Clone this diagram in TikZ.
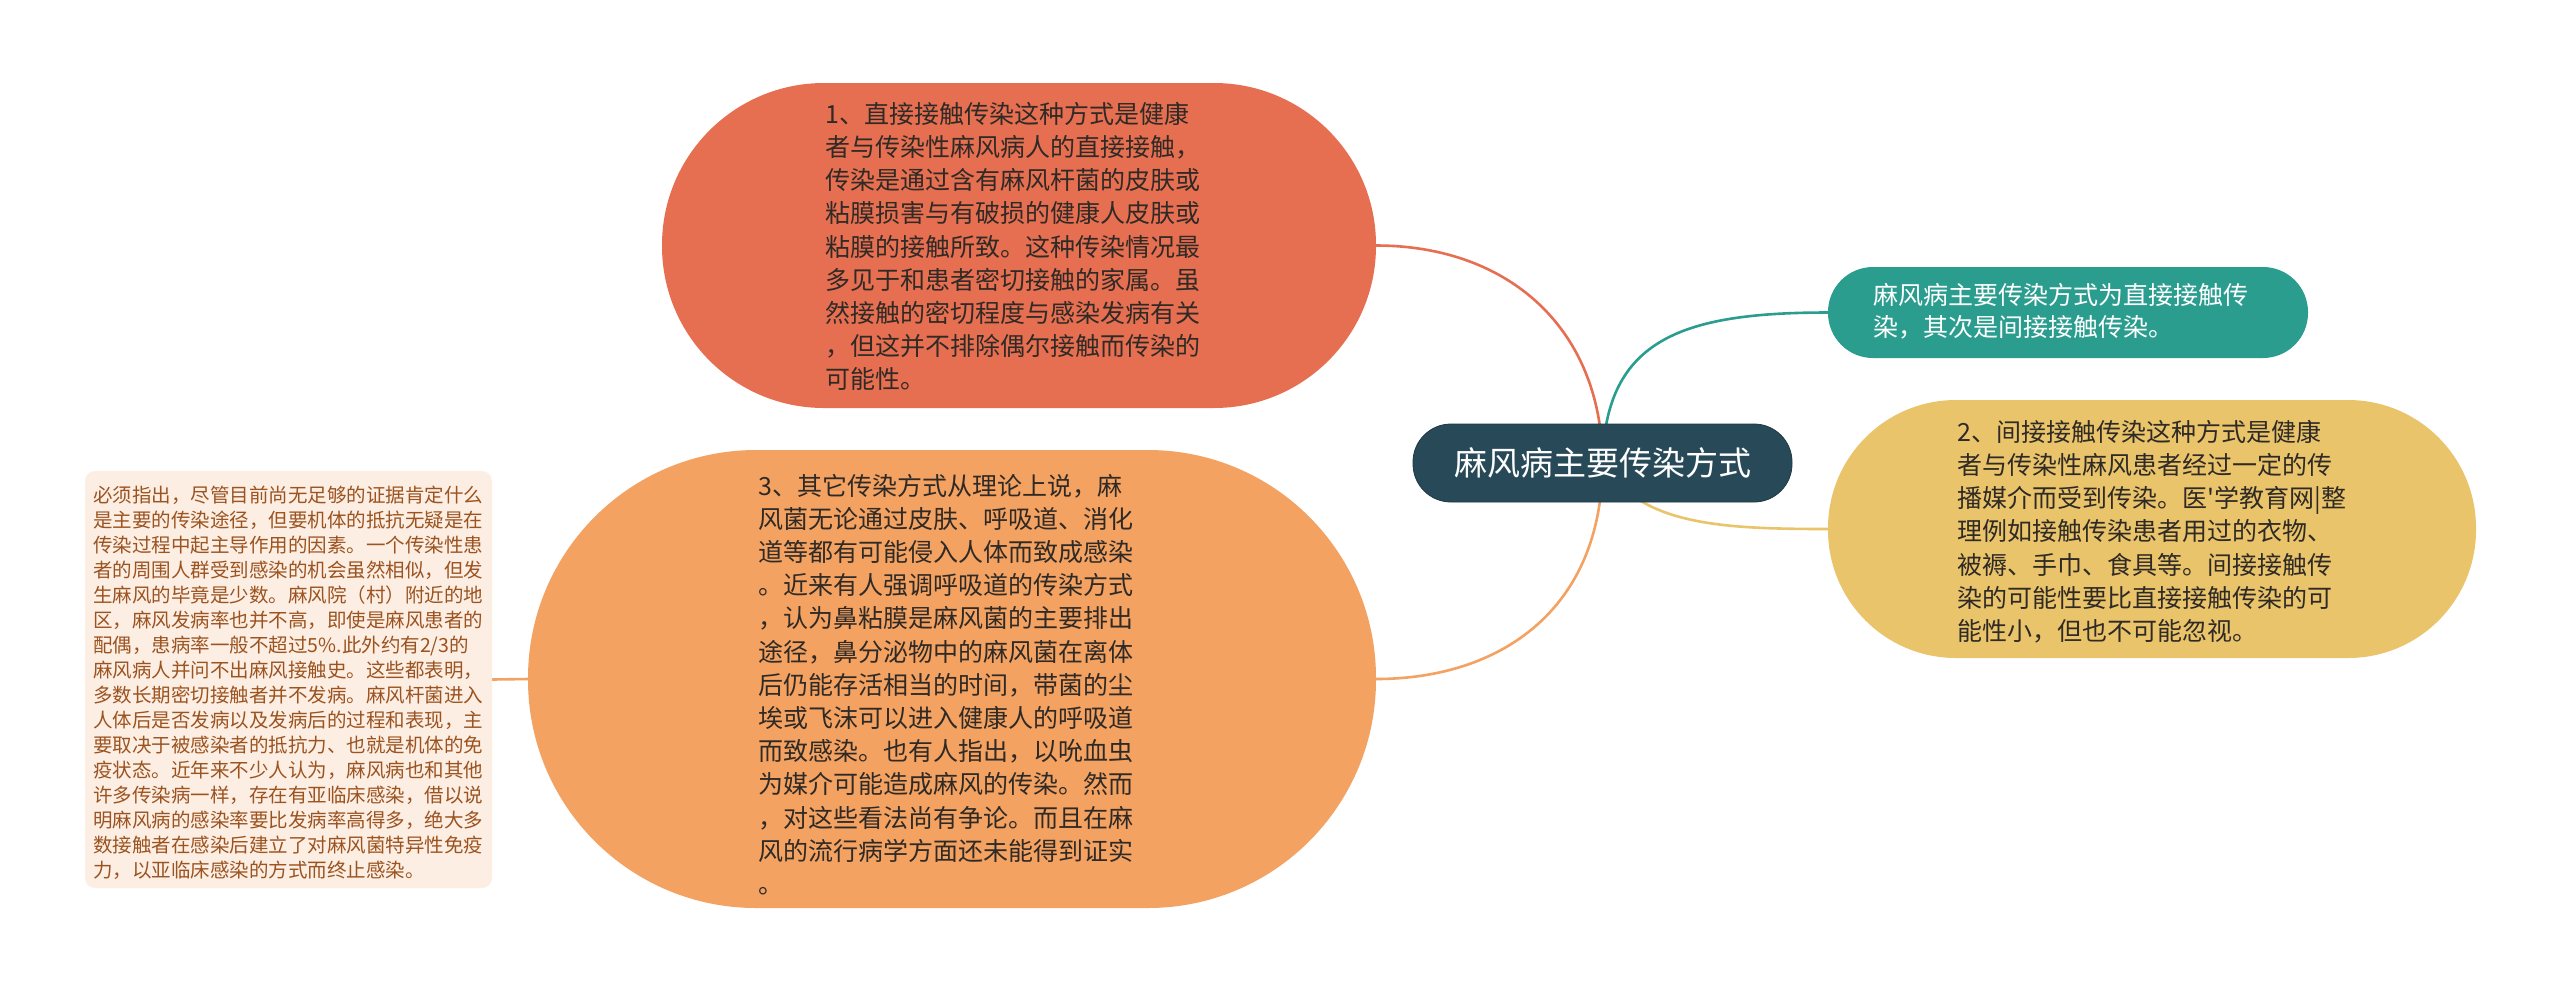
\documentclass[tikz,border=0pt]{standalone}
\usepackage{fontspec}
\setmainfont{Noto Sans CJK SC}
\usetikzlibrary{backgrounds}
\font\aposfont="Noto Sans CJK SC" at 12.5pt
\definecolor{cRoot}{HTML}{284A58}
\definecolor{cRootEdge}{HTML}{1E3844}
\definecolor{cRed}{HTML}{E76F51}
\definecolor{cTeal}{HTML}{2A9D8F}
\definecolor{cYel}{HTML}{E9C46A}
\definecolor{cOra}{HTML}{F4A261}
\definecolor{cPale}{HTML}{FDEEE3}
\definecolor{cBrown}{HTML}{9B5320}
\definecolor{cInk}{HTML}{2F2A26}
\tikzset{
  shapebox/.style={rectangle, inner sep=0pt, outer sep=0pt},
  bigtext/.style={anchor=west, align=left, inner sep=0pt, text=cInk,
    font={\fontsize{12.5}{16.6}\selectfont}},
  link/.style={line width=1.3pt},
}
\begin{document}
\begin{tikzpicture}[x=0.5pt,y=-0.5pt]
\useasboundingbox (0,0) rectangle (2560,993);

% shapes
\node[shapebox, fill=cRoot, draw=cRootEdge, line width=0.4pt, minimum width=189.5pt, minimum height=39pt, rounded corners=19pt] (root) at (1602.5,463) {};
\node[shapebox, fill=cRed, minimum width=357pt, minimum height=162.5pt, rounded corners=81pt] (n1) at (1019,245.5) {};
\node[shapebox, fill=cTeal, minimum width=240pt, minimum height=45.5pt, rounded corners=22.5pt] (n2) at (2068,312.5) {};
\node[shapebox, fill=cOra, minimum width=424pt, minimum height=229pt, rounded corners=114pt] (n3) at (952,679) {};
\node[shapebox, fill=cYel, minimum width=324pt, minimum height=129pt, rounded corners=64pt] (n4) at (2152,529) {};
\node[shapebox, fill=cPale, minimum width=203.5pt, minimum height=208.5pt, rounded corners=5pt] (n5) at (288.5,679.5) {};

% connectors (behind the shapes)
\begin{pgfonlayer}{background}
\fill[white] (0,0) rectangle (2560,993);
\draw[link, cRed] (n1.east) .. controls (1510,245.5) and (1602,330) .. (root.center);
\draw[link, cTeal] (root.center) .. controls (1605,340) and (1680,312.5) .. (n2.west);
\draw[link, cYel] (root.center) .. controls (1640,525) and (1720,529) .. (n4.west);
\draw[link, cOra] (root.center) .. controls (1602,610) and (1500,679) .. (n3.east);
\draw[link, cOra] (n3.west) -- (n5.east);
\end{pgfonlayer}

% texts
\node[anchor=center, inner sep=0pt, text=white, font={\fontsize{16.5}{20}\selectfont}] (troot) at (root.center) {麻风病主要传染方式};

\node[bigtext] (t1) at (825,246.5) {1、直接接触传染这种方式是健康\\者与传染性麻风病人的直接接触，\\传染是通过含有麻风杆菌的皮肤或\\粘膜损害与有破损的健康人皮肤或\\粘膜的接触所致。这种传染情况最\\多见于和患者密切接触的家属。虽\\然接触的密切程度与感染发病有关\\，但这并不排除偶尔接触而传染的\\可能性。};

\node[bigtext, text=white, font={\fontsize{12.5}{16}\selectfont}] (t2) at (1873,311) {麻风病主要传染方式为直接接触传\\染，其次是间接接触传染。};

\node[bigtext] (t3) at (758,684.5) {3、其它传染方式从理论上说，麻\\风菌无论通过皮肤、呼吸道、消化\\道等都有可能侵入人体而致成感染\\。近来有人强调呼吸道的传染方式\\，认为鼻粘膜是麻风菌的主要排出\\途径，鼻分泌物中的麻风菌在离体\\后仍能存活相当的时间，带菌的尘\\埃或飞沫可以进入健康人的呼吸道\\而致感染。也有人指出，以吮血虫\\为媒介可能造成麻风的传染。然而\\，对这些看法尚有争论。而且在麻\\风的流行病学方面还未能得到证实\\。};

\node[bigtext] (t4) at (1957,531.5) {2、间接接触传染这种方式是健康\\者与传染性麻风患者经过一定的传\\播媒介而受到传染。医{\aposfont '}学教育网|整\\理例如接触传染患者用过的衣物、\\被褥、手巾、食具等。间接接触传\\染的可能性要比直接接触传染的可\\能性小，但也不可能忽视。};

\node[anchor=west, align=left, inner sep=0pt, text=cBrown, font={\fontsize{9.75}{12.5}\selectfont}] (t5) at (93,682.5) {必须指出，尽管目前尚无足够的证据肯定什么\\是主要的传染途径，但要机体的抵抗无疑是在\\传染过程中起主导作用的因素。一个传染性患\\者的周围人群受到感染的机会虽然相似，但发\\生麻风的毕竟是少数。麻风院（村）附近的地\\区，麻风发病率也并不高，即使是麻风患者的\\配偶，患病率一般不超过5\%.此外约有2/3的\\麻风病人并问不出麻风接触史。这些都表明，\\多数长期密切接触者并不发病。麻风杆菌进入\\人体后是否发病以及发病后的过程和表现，主\\要取决于被感染者的抵抗力、也就是机体的免\\疫状态。近年来不少人认为，麻风病也和其他\\许多传染病一样，存在有亚临床感染，借以说\\明麻风病的感染率要比发病率高得多，绝大多\\数接触者在感染后建立了对麻风菌特异性免疫\\力，以亚临床感染的方式而终止感染。};
\end{tikzpicture}
\end{document}
